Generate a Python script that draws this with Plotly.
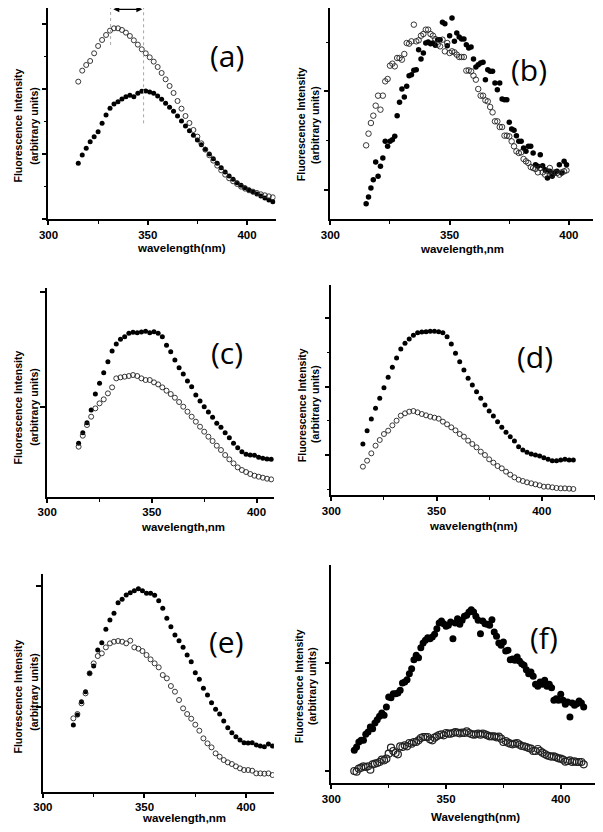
import plotly.graph_objects as go

W, H = 603, 832
OFF = 8  # default page margin around the plot div

# ---- data (intensity in arbitrary units) ----
A_WL = list(range(315, 415, 2))
A_FILLED = [168, 193, 213, 233, 248, 263, 288, 313, 333, 346,
            353, 361, 368, 372, 368, 378, 384, 385, 382, 378,
            370, 360, 348, 336, 324, 310, 295, 280, 266, 252,
            238, 224, 210, 196, 182, 168, 155, 142, 130, 120,
            110, 102, 95, 88, 82, 76, 70, 64, 58, 53]
A_OPEN = [413, 446, 463, 475, 498, 520, 538, 553, 566, 573,
          573, 568, 560, 550, 537, 524, 510, 498, 486, 473,
          457, 439, 420, 400, 379, 355, 332, 310, 289, 268,
          248, 228, 209, 192, 176, 161, 147, 134, 123, 114,
          106, 98, 92, 87, 83, 79, 75, 72, 69, 66]
A_PEAKS = [331.3, 347.9]          # emission maxima marked in panel (a)
A_PEAK_LINE_BOTTOM = [523, 288]

B_WL = list(range(315, 400))
B_FILLED = [46, 66, 93, 118, 171, 128, 158, 183, 233, 218,
            233, 238, 248, 310, 350, 390, 366, 398, 430, 433,
            446, 448, 508, 480, 498, 528, 531, 526, 528, 521,
            538, 538, 590, 586, 520, 550, 603, 533, 558, 546,
            540, 540, 523, 513, 516, 480, 456, 463, 468, 470,
            418, 448, 443, 443, 408, 388, 408, 360, 358, 358,
            290, 270, 266, 250, 233, 233, 213, 203, 218, 218,
            198, 163, 158, 193, 160, 148, 123, 143, 128, 138,
            143, 163, 138, 173, 163]
B_OPEN = [221, 256, 288, 310, 340, 370, 328, 370, 413, 420,
          460, 466, 458, 483, 483, 478, 495, 528, 526, 533,
          583, 533, 536, 550, 555, 568, 568, 555, 550, 540,
          523, 518, 538, 503, 528, 498, 503, 500, 493, 486,
          486, 486, 445, 446, 443, 430, 418, 390, 370, 370,
          356, 353, 336, 320, 293, 293, 276, 276, 250, 250,
          248, 233, 218, 203, 198, 200, 180, 173, 168, 156,
          153, 150, 140, 153, 140, 133, 143, 153, 133, 140,
          138, 133, 140, 143, 146]

C_WL = list(range(315, 409, 2))
C_FILLED = [160, 192, 222, 260, 308, 340, 372, 405, 437, 458,
            472, 480, 490, 493, 492, 494, 496, 492, 495, 490,
            480, 454, 435, 410, 387, 368, 347, 330, 305, 287,
            270, 254, 238, 220, 208, 192, 177, 160, 147, 135,
            127, 125, 124, 118, 115, 113, 112]
C_OPEN = [150, 183, 215, 240, 265, 280, 292, 310, 328, 355,
          358, 360, 362, 365, 362, 355, 350, 350, 343, 337,
          328, 318, 308, 297, 284, 270, 255, 240, 225, 210,
          195, 180, 167, 153, 140, 125, 112, 100, 88, 80,
          74, 68, 63, 60, 57, 54, 52]

D_WL = list(range(315, 417, 2))
D_FILLED = [153, 193, 228, 260, 290, 322, 353, 383, 411, 438,
            455, 468, 479, 487, 489, 490, 491, 491, 490, 487,
            475, 453, 425, 400, 375, 350, 330, 310, 290, 270,
            252, 237, 220, 203, 188, 175, 162, 145, 135, 128,
            123, 120, 117, 112, 107, 103, 103, 105, 107, 105,
            105]
D_OPEN = [85, 103, 125, 148, 165, 183, 193, 209, 223, 238,
          245, 250, 252, 248, 243, 239, 235, 232, 229, 220,
          212, 203, 194, 183, 175, 163, 153, 143, 130, 120,
          107, 97, 87, 80, 70, 61, 53, 46, 42, 38,
          35, 32, 29, 25, 25, 23, 21, 20, 20, 19,
          18]

E_WL = list(range(315, 415, 2))
E_FILLED = [200, 230, 270, 300, 355, 377, 425, 447, 487, 515,
            535, 567, 577, 590, 597, 603, 609, 603, 595, 595,
            589, 573, 550, 520, 495, 470, 453, 433, 410, 390,
            357, 337, 310, 290, 267, 247, 233, 212, 192, 177,
            165, 155, 147, 146, 147, 140, 137, 135, 143, 137]
E_OPEN = [220, 233, 265, 295, 355, 385, 407, 415, 433, 445,
          450, 452, 450, 445, 453, 433, 429, 422, 410, 397,
          385, 373, 350, 340, 317, 300, 275, 250, 233, 219,
          201, 183, 160, 145, 133, 115, 105, 95, 88, 83,
          76, 70, 65, 65, 63, 55, 55, 54, 55, 50]

F_WL = list(range(310, 411))
F_FILLED = [98, 108, 123, 128, 128, 146, 153, 168, 163, 180,
            190, 200, 210, 203, 228, 258, 256, 268, 268, 270,
            278, 300, 303, 310, 328, 343, 370, 383, 376, 406,
            420, 428, 436, 433, 438, 446, 463, 480, 486, 478,
            470, 473, 483, 433, 480, 493, 476, 488, 500, 503,
            513, 520, 513, 500, 488, 448, 486, 478, 476, 473,
            490, 453, 440, 420, 413, 423, 396, 398, 370, 372,
            368, 378, 366, 358, 353, 340, 328, 333, 320, 296,
            290, 303, 296, 308, 290, 296, 286, 248, 253, 248,
            266, 248, 236, 243, 198, 240, 233, 238, 246, 240, 228]
F_OPEN = [36, 34, 43, 46, 50, 48, 50, 40, 56, 58,
          60, 63, 70, 68, 73, 88, 106, 96, 90, 86,
          110, 108, 113, 110, 120, 118, 123, 123, 128, 135,
          138, 138, 138, 131, 128, 136, 140, 144, 146, 143,
          150, 148, 148, 150, 153, 151, 149, 151, 150, 155,
          150, 147, 145, 146, 148, 145, 148, 146, 143, 140,
          140, 140, 137, 139, 133, 123, 126, 121, 118, 116,
          118, 120, 115, 111, 110, 108, 105, 103, 96, 96,
          102, 96, 91, 87, 83, 81, 79, 80, 77, 74,
          73, 70, 64, 66, 68, 63, 65, 63, 63, 63, 56]

X_TICKS = [300, 350, 400]

# ---- panel geometry (pixels in the 603x832 window) ----
panels = [
    dict(tag='(a)', wl=A_WL, filled=A_FILLED, opened=A_OPEN, box=(39, 270, 8, 219.3), xmax=414.4,
         ytick=(0, 195, 97.5), size=5, lab=(221, 55), xt='wavelength(nm)', xtpos=(174, 248),
         yt=((8.5, 125), (24, 126))),
    dict(tag='(b)', wl=B_WL, filled=B_FILLED, opened=B_OPEN, box=(325.7, 593.3, 8, 219), xmax=410.3,
         ytick=(88, 295, 147.5), size=5.5, lab=(528, 69), xt='wavelength,nm', xtpos=(460, 249),
         yt=((296, 124), (310, 125))),
    dict(tag='(c)', wl=C_WL, filled=C_FILLED, opened=C_OPEN, box=(37.7, 268.3, 288.3, 496.7), xmax=408.3,
         ytick=(270, 345, None), size=5, lab=(221, 352), xt='wavelength,nm', xtpos=(176, 527),
         yt=((8.5, 407), (24, 407))),
    dict(tag='(d)', wl=D_WL, filled=D_FILLED, opened=D_OPEN, box=(326.7, 598.3, 285, 495), xmax=426.9,
         ytick=(120, 205, 102.5), size=5, lab=(534, 356), xt='wavelength(nm)', xtpos=(471, 526),
         yt=((297, 405), (310, 404))),
    dict(tag='(e)', wl=E_WL, filled=E_FILLED, opened=E_OPEN, box=(33.3, 268.3, 574, 791.7), xmax=413.7,
         ytick=(255, 362, None), size=5, lab=(220, 641), xt='wavelength,nm', xtpos=(177, 818),
         yt=((8.5, 696), (24, 692))),
    dict(tag='(f)', wl=F_WL, filled=F_FILLED, opened=F_OPEN, box=(326.7, 598.3, 565, 783), xmax=416.4,
         ytick=(36, 324, None), size=7, lab=(543, 637), xt='Wavelength(nm)', xtpos=(473, 817),
         yt=((294, 686), (307, 686))),
]

FW, FH = W - OFF, H - OFF


def fx(px):
    return min(1, max(0, (px - OFF) / FW))


def fy(py):
    return min(1, max(0, 1 - (py - OFF) / FH))


fig = go.Figure()
layout = {}
annotations = []
tickfont = dict(family='Liberation Sans, Arial', size=11.5, color='black', weight='bold')
titlefont = dict(family='Liberation Sans, Arial', size=11.5, color='black', weight='bold')
yfont = dict(family='Liberation Sans, Arial', size=10.5, color='black', weight='bold')

for i, p in enumerate(panels, start=1):
    sfx = '' if i == 1 else str(i)
    xa, ya = 'x' + sfx, 'y' + sfx
    left, right, top, bottom = p['box']
    s = p['size']

    fig.add_trace(go.Scatter(
        x=p['wl'], y=p['filled'], mode='markers', xaxis=xa, yaxis=ya,
        marker=dict(symbol='circle', size=s, color='black', line=dict(width=0)),
    ))
    fig.add_trace(go.Scatter(
        x=p['wl'], y=p['opened'], mode='markers', xaxis=xa, yaxis=ya,
        marker=dict(symbol='circle-open', size=s, color='#222222',
                    line=dict(width=1.2 if s > 6 else 0.9)),
    ))

    layout['xaxis' + sfx] = dict(
        domain=[fx(left), fx(right)], range=[300, p['xmax']], anchor=ya,
        showgrid=False, zeroline=False, showline=True, linecolor='black', linewidth=1.6,
        ticks='outside', ticklen=4, tickwidth=1.5, tickcolor='black',
        tickmode='array', tickvals=X_TICKS, ticktext=[str(t) for t in X_TICKS],
        tickfont=tickfont,
        minor=dict(tick0=300, dtick=25, ticks='outside', ticklen=3, tickwidth=1.3,
                   tickcolor='black', showgrid=False),
    )
    t0, dt, mdt = p['ytick']
    yax = dict(
        domain=[fy(bottom), fy(top)], range=[0, 3 * (bottom - top)], anchor=xa,
        showgrid=False, zeroline=False, showline=True, linecolor='black', linewidth=1.6,
        ticks='outside', ticklen=5, tickwidth=1.5, tickcolor='black',
        tick0=t0, dtick=dt, showticklabels=False,
    )
    if mdt:
        yax['minor'] = dict(tick0=t0, dtick=mdt, ticks='outside', ticklen=3, tickwidth=1.3,
                            tickcolor='black', showgrid=False)
    layout['yaxis' + sfx] = yax

    annotations.append(dict(text=p['tag'], x=fx(p['lab'][0]), y=fy(p['lab'][1]),
                            xref='paper', yref='paper', showarrow=False,
                            xanchor='center', yanchor='middle',
                            font=dict(family='Open Sans', size=30, color='black')))
    annotations.append(dict(text=p['xt'], x=fx(p['xtpos'][0]), y=fy(p['xtpos'][1]),
                            xref='paper', yref='paper', showarrow=False,
                            xanchor='center', yanchor='middle', font=titlefont))
    for txt, (cx, cy) in zip(['Fluorescence Intensity', '(arbitrary units)'], p['yt']):
        annotations.append(dict(text=txt, x=fx(cx), y=fy(cy), xref='paper', yref='paper',
                                showarrow=False, textangle=-90, xanchor='center',
                                yanchor='middle', font=yfont))

# peak shift marker in panel (a)
a_top = 3 * (219.3 - 8)
for xp, yb in zip(A_PEAKS, A_PEAK_LINE_BOTTOM):
    fig.add_shape(type='line', xref='x', yref='y', x0=xp, x1=xp, y0=yb, y1=a_top,
                  line=dict(color='#a8a8a8', width=1, dash='dot'))
annotations.append(dict(x=A_PEAKS[1] - 0.6, y=a_top - 4, ax=A_PEAKS[0] + 0.6, ay=a_top - 4,
                        xref='x', yref='y', axref='x', ayref='y', text='',
                        showarrow=True, arrowhead=2, arrowside='end+start',
                        arrowsize=1, arrowwidth=1.2, arrowcolor='black'))

fig.update_layout(
    width=FW, height=FH, margin=dict(l=0, r=0, t=0, b=0),
    paper_bgcolor='white', plot_bgcolor='white', showlegend=False,
    annotations=annotations, **layout,
)

fig.write_html('out.html')
